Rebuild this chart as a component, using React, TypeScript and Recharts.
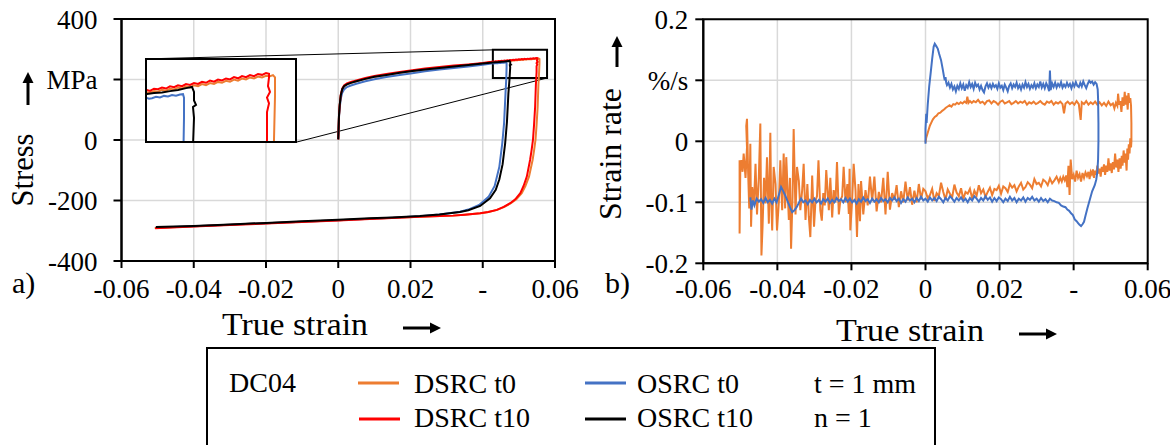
import {
  LineChart,
  Line,
  XAxis,
  YAxis,
  CartesianGrid,
  ReferenceArea,
  ReferenceLine
} from "recharts";

type Pt = [number, number];

// axis ticks and their printed labels
const strainTicks = [-0.06, -0.04, -0.02, 0, 0.02, 0.04, 0.06];
const strainTickLabels = ["-0.06", "-0.04", "-0.02", "0", "0.02", "-", "0.06"];
const stressTicks = [-400, -200, 0, 200, 400];
const stressTickLabels = ["-400", "-200", "0", "MPa", "400"];
const rateTicks = [-0.2, -0.1, 0, 0.1, 0.2];
const rateTickLabels = ["-0.2", "-0.1", "0", "%/s", "0.2"];

// a) stress-strain loops
const stressDsrcT0: Pt[] = [
  [0, 2], [0.0001, 38], [0.0002, 76], [0.0004, 112], [0.0007, 146], [0.0011, 166], [0.0016, 177],
  [0.0024, 184], [0.0035, 189], [0.005, 194], [0.0075, 202], [0.01, 209], [0.0133, 215], [0.017, 222],
  [0.0205, 228], [0.024, 233], [0.028, 238], [0.032, 243], [0.036, 248], [0.04, 253],
  [0.0424, 256.8], [0.0428, 257.9], [0.0432, 257.2], [0.0436, 258.6], [0.044, 258.1], [0.0444, 259.5],
  [0.0448, 258.8], [0.0452, 260.2], [0.0456, 259.6], [0.046, 261], [0.0464, 260.3], [0.0468, 261.8],
  [0.0472, 261.1], [0.0476, 262.5], [0.048, 261.9], [0.0484, 263.4], [0.0488, 262.7], [0.0492, 264.1],
  [0.0496, 263.5], [0.05, 264.9], [0.0504, 264.3], [0.0508, 265.7], [0.0512, 265], [0.0516, 266.5],
  [0.052, 265.8], [0.0524, 267.2], [0.0528, 266.6], [0.0532, 268], [0.0536, 267.3], [0.054, 268.6],
  [0.0544, 268], [0.0548, 269.2], [0.0552, 268.8], [0.0555, 269.6], [0.0557, 268],
  [0.0557, 255], [0.0556, 225], [0.0554, 180], [0.0552, 110], [0.0549, 50], [0.0546, 0], [0.0542, -35],
  [0.0538, -66], [0.0528, -121], [0.0518, -152], [0.0508, -176], [0.0493, -196], [0.0478, -209],
  [0.046, -221], [0.044, -231], [0.0416, -238], [0.0393, -242], [0.035, -247], [0.0318, -250],
  [0.0226, -254], [0.0087, -260], [0, -265], [-0.01, -270], [-0.02, -275], [-0.03, -280], [-0.04, -285],
  [-0.0508, -291]
];

const stressDsrcT10: Pt[] = [
  [0, 2], [0.0001, 40], [0.0002, 80], [0.0004, 116], [0.0007, 150], [0.0011, 170], [0.0016, 180],
  [0.0024, 187], [0.0035, 192], [0.005, 197], [0.0075, 205], [0.01, 212], [0.0133, 218], [0.017, 225],
  [0.0205, 231], [0.024, 236], [0.028, 241], [0.032, 246], [0.036, 250], [0.04, 254.5],
  [0.0424, 258.5], [0.0428, 259.5], [0.0432, 258.6], [0.0436, 260.2], [0.044, 259.8], [0.0444, 261],
  [0.0448, 260.3], [0.0452, 261.8], [0.0456, 261.2], [0.046, 262.5], [0.0464, 261.9], [0.0468, 263.4],
  [0.0472, 262.8], [0.0476, 264.1], [0.048, 263.5], [0.0484, 265], [0.0488, 264.3], [0.0492, 265.8],
  [0.0496, 265.1], [0.05, 266.5], [0.0504, 265.9], [0.0508, 267.3], [0.0512, 266.6], [0.0516, 268.2],
  [0.052, 267.4], [0.0524, 268.9], [0.0528, 268.2], [0.0532, 269.6], [0.0536, 268.9], [0.054, 270.4],
  [0.0544, 269.8], [0.0548, 271], [0.0551, 270.5],
  [0.0551, 268], [0.055, 262], [0.0552, 258], [0.0549, 254], [0.0551, 250], [0.0549, 244], [0.0549, 225],
  [0.0547, 180], [0.0545, 110], [0.0542, 50], [0.0539, 0], [0.0535, -35], [0.0531, -66], [0.0522, -121],
  [0.0513, -152], [0.0504, -176], [0.049, -196], [0.0476, -209], [0.0458, -221], [0.0439, -231],
  [0.0415, -238], [0.0393, -242], [0.035, -247], [0.0318, -250], [0.0226, -254], [0.0087, -261],
  [0, -266], [-0.01, -271], [-0.02, -276], [-0.03, -281], [-0.04, -286], [-0.0507, -292]
];

const stressOsrcT0: Pt[] = [
  [0, 2], [0.0001, 38], [0.0002, 74], [0.0004, 106], [0.0007, 136], [0.0011, 156], [0.0016, 167],
  [0.0024, 175], [0.0035, 180], [0.005, 186], [0.0075, 194], [0.01, 201], [0.0133, 208], [0.017, 215],
  [0.0205, 221], [0.024, 227], [0.028, 233], [0.032, 238], [0.036, 243], [0.04, 248.5], [0.0424, 252.5],
  [0.0428, 254], [0.0431, 253.2], [0.0434, 253.6], [0.0438, 254.6], [0.0442, 254.1], [0.0446, 255.2],
  [0.045, 254.8], [0.0454, 255.8], [0.0458, 255.3], [0.0462, 256.2], [0.0465, 256.4], [0.0466, 254],
  [0.0466, 240], [0.0465, 200], [0.0463, 154], [0.0459, 55], [0.0454, -11], [0.0446, -88],
  [0.0433, -152], [0.0416, -188], [0.039, -215], [0.036, -230], [0.0337, -237], [0.028, -246],
  [0.0226, -252], [0.015, -257], [0.0087, -260], [0, -265], [-0.01, -270], [-0.02, -275], [-0.03, -280],
  [-0.04, -285], [-0.0496, -289]
];

const stressOsrcT10: Pt[] = [
  [0, 2], [0.0001, 40], [0.0002, 80], [0.0004, 115], [0.0007, 148], [0.0011, 168], [0.0016, 178],
  [0.0024, 184], [0.0035, 189], [0.005, 194], [0.0075, 202], [0.01, 209], [0.0133, 215], [0.017, 222],
  [0.0205, 228], [0.024, 233], [0.028, 238], [0.032, 243], [0.036, 248], [0.04, 253], [0.0428, 256.5],
  [0.0436, 257.2], [0.0444, 257.6], [0.0452, 258.5], [0.046, 259.3], [0.0468, 260.6], [0.0474, 261.4],
  [0.0476, 258], [0.0476, 252], [0.0478, 249], [0.0475, 247.5], [0.0476, 240], [0.0474, 200],
  [0.0471, 154], [0.0467, 60], [0.0462, -11], [0.0455, -80], [0.0446, -130], [0.0436, -165],
  [0.042, -193], [0.0393, -218], [0.036, -232], [0.0337, -238], [0.028, -246], [0.0226, -251],
  [0.015, -256], [0.0087, -259], [0, -264], [-0.01, -269], [-0.02, -274], [-0.03, -279], [-0.04, -284],
  [-0.0505, -288]
];

// b) strain rate over strain (only the t0 runs are shown)
const rateDsrcT0: Pt[] = [
  [0, -0.002], [0.0002, 0.006], [0.0005, 0.012], [0.0008, 0.018], [0.0012, 0.026], [0.0016, 0.031],
  [0.002, 0.036], [0.0025, 0.04], [0.003, 0.042], [0.0035, 0.046], [0.004, 0.047], [0.0045, 0.05],
  [0.005, 0.052], [0.0055, 0.055], [0.006, 0.057], [0.0065, 0.059], [0.007, 0.057], [0.0075, 0.061],
  [0.008, 0.06], [0.0085, 0.063], [0.009, 0.061], [0.0095, 0.064], [0.01, 0.062], [0.0105, 0.065],
  [0.011, 0.063], [0.0113, 0.073], [0.0116, 0.063], [0.012, 0.066], [0.0125, 0.063], [0.013, 0.066],
  [0.0136, 0.064], [0.0142, 0.068], [0.0148, 0.063], [0.0154, 0.065], [0.016, 0.061], [0.0166, 0.066],
  [0.0172, 0.067], [0.0178, 0.062], [0.0184, 0.066], [0.019, 0.064], [0.0196, 0.06], [0.0202, 0.065],
  [0.0208, 0.067], [0.0214, 0.062], [0.022, 0.064], [0.0226, 0.066], [0.0232, 0.061], [0.0238, 0.063],
  [0.0244, 0.066], [0.025, 0.062], [0.0256, 0.065], [0.0262, 0.063], [0.0268, 0.066], [0.0274, 0.06],
  [0.028, 0.064], [0.0286, 0.062], [0.0292, 0.065], [0.0298, 0.061], [0.0304, 0.063], [0.031, 0.066],
  [0.0316, 0.062], [0.0322, 0.06], [0.0328, 0.065], [0.0334, 0.063], [0.034, 0.066], [0.0346, 0.06],
  [0.0352, 0.064], [0.0358, 0.062], [0.0364, 0.065], [0.037, 0.061], [0.0374, 0.046], [0.0378, 0.062],
  [0.0384, 0.065], [0.039, 0.061], [0.0396, 0.064], [0.0402, 0.06], [0.0408, 0.066], [0.0414, 0.061],
  [0.0419, 0.035], [0.0422, 0.064], [0.0428, 0.061], [0.0434, 0.066], [0.044, 0.06], [0.0446, 0.064],
  [0.0452, 0.061], [0.0458, 0.065], [0.0464, 0.06], [0.047, 0.064], [0.0476, 0.059], [0.0482, 0.063],
  [0.0488, 0.058], [0.0494, 0.065], [0.05, 0.059], [0.0506, 0.062], [0.051, 0.054], [0.0514, 0.063],
  [0.0518, 0.058], [0.052, 0.078], [0.0523, 0.06], [0.0526, 0.066], [0.0529, 0.048], [0.0532, 0.072],
  [0.0535, 0.058], [0.0538, 0.081], [0.054, 0.06], [0.0543, 0.075], [0.0546, 0.052], [0.0548, 0.079],
  [0.0551, 0.063], [0.0553, 0.071], [0.0555, 0.058], [0.0556, 0.03],
  [0.0556, 0], [0.0555, -0.01], [0.0553, 0.005], [0.0551, -0.02], [0.0549, -0.005], [0.0547, -0.03],
  [0.0545, -0.012], [0.0543, -0.048], [0.054, -0.02], [0.0538, -0.035], [0.0535, -0.015], [0.0532, -0.04],
  [0.053, -0.024], [0.0527, -0.045], [0.0524, -0.028], [0.0521, -0.05], [0.0518, -0.03], [0.0515, -0.043],
  [0.0512, -0.02], [0.0509, -0.046], [0.0506, -0.034], [0.0503, -0.052], [0.05, -0.036], [0.0497, -0.048],
  [0.0494, -0.028], [0.0491, -0.05], [0.0488, -0.04], [0.0485, -0.055], [0.0482, -0.038], [0.0479, -0.05],
  [0.0476, -0.042], [0.0473, -0.058], [0.047, -0.045], [0.0467, -0.053], [0.0464, -0.04], [0.0461, -0.055],
  [0.0458, -0.048], [0.0455, -0.06], [0.0452, -0.046], [0.0449, -0.054], [0.0446, -0.05], [0.0443, -0.062],
  [0.044, -0.05], [0.0436, -0.057], [0.0432, -0.051], [0.0428, -0.06], [0.0424, -0.052], [0.042, -0.066],
  [0.0416, -0.054], [0.0412, -0.06], [0.0408, -0.048], [0.0404, -0.066], [0.04, -0.055], [0.0396, -0.062],
  [0.0392, -0.03], [0.0389, -0.088], [0.0386, -0.04], [0.0383, -0.075], [0.038, -0.056], [0.0376, -0.064],
  [0.0372, -0.058], [0.0368, -0.066], [0.0364, -0.06], [0.036, -0.067], [0.0354, -0.058], [0.0348, -0.064],
  [0.0342, -0.069], [0.0336, -0.061], [0.033, -0.072], [0.0324, -0.066], [0.0318, -0.063], [0.0312, -0.074],
  [0.0306, -0.068], [0.03, -0.07], [0.0294, -0.062], [0.0288, -0.077], [0.0282, -0.071], [0.0276, -0.067],
  [0.027, -0.075], [0.0264, -0.079], [0.0258, -0.068], [0.0252, -0.074], [0.0246, -0.082], [0.024, -0.072],
  [0.0234, -0.076], [0.0228, -0.07], [0.0222, -0.083], [0.0216, -0.077], [0.021, -0.074], [0.0204, -0.086],
  [0.0198, -0.073], [0.0192, -0.08], [0.0186, -0.078], [0.018, -0.088], [0.0174, -0.076], [0.0168, -0.083],
  [0.0162, -0.091], [0.0156, -0.079], [0.015, -0.085], [0.0144, -0.072], [0.0138, -0.089], [0.0132, -0.081],
  [0.0126, -0.094], [0.012, -0.078], [0.0114, -0.086], [0.0108, -0.083], [0.0102, -0.095], [0.0096, -0.077],
  [0.009, -0.09], [0.0084, -0.084], [0.0078, -0.071], [0.0072, -0.092], [0.0066, -0.086], [0.006, -0.079],
  [0.0054, -0.096], [0.0048, -0.083], [0.0042, -0.068], [0.0036, -0.09], [0.003, -0.085], [0.0024, -0.098],
  [0.0018, -0.078], [0.0012, -0.088], [0.0006, -0.093], [0, -0.082], [-0.0006, -0.078], [-0.0012, -0.095],
  [-0.0018, -0.07], [-0.0024, -0.1], [-0.003, -0.081], [-0.0036, -0.104], [-0.0042, -0.075], [-0.0048, -0.097],
  [-0.0054, -0.066], [-0.006, -0.1], [-0.0066, -0.082], [-0.0072, -0.108], [-0.0078, -0.072], [-0.0084, -0.096],
  [-0.009, -0.085], [-0.0096, -0.112], [-0.0102, -0.05], [-0.0108, -0.12], [-0.0114, -0.06], [-0.012, -0.1],
  [-0.0126, -0.083], [-0.0132, -0.115], [-0.0138, -0.058], [-0.0144, -0.098], [-0.015, -0.058], [-0.0156, -0.105],
  [-0.0162, -0.08], [-0.0168, -0.12], [-0.0174, -0.065], [-0.0177, -0.131], [-0.0181, -0.07], [-0.0185, -0.157],
  [-0.0189, -0.08], [-0.0194, -0.037], [-0.0198, -0.095], [-0.0203, -0.146], [-0.0205, -0.045], [-0.0207, -0.119],
  [-0.0211, -0.07], [-0.0216, -0.1], [-0.0221, -0.042], [-0.0225, -0.09], [-0.023, -0.097], [-0.0234, -0.12],
  [-0.0239, -0.034], [-0.0243, -0.1], [-0.0248, -0.08], [-0.0252, -0.125], [-0.0257, -0.06], [-0.0261, -0.113],
  [-0.0265, -0.075], [-0.0268, -0.047], [-0.0272, -0.105], [-0.0276, -0.085], [-0.028, -0.13], [-0.0284, -0.113],
  [-0.0289, -0.031], [-0.0293, -0.09], [-0.0297, -0.097], [-0.0301, -0.14], [-0.0306, -0.056], [-0.0311, -0.157],
  [-0.0315, -0.124], [-0.0319, -0.07], [-0.0324, -0.129], [-0.0329, -0.037], [-0.0333, -0.08], [-0.0338, -0.113],
  [-0.0342, -0.065], [-0.0347, -0.042], [-0.0351, -0.12], [-0.0356, 0.02], [-0.0359, -0.09], [-0.0363, -0.176],
  [-0.0366, -0.06], [-0.0369, -0.129], [-0.0372, -0.085], [-0.0376, -0.026], [-0.0379, -0.11], [-0.0383, -0.02],
  [-0.0387, -0.113], [-0.0392, -0.031], [-0.0396, -0.1], [-0.0401, -0.146], [-0.0405, -0.07], [-0.041, -0.042],
  [-0.0414, -0.146], [-0.0417, -0.09], [-0.0419, 0.014], [-0.0423, -0.135], [-0.0428, -0.026], [-0.0432, -0.102],
  [-0.0436, -0.06], [-0.044, -0.14], [-0.0443, -0.187], [-0.0446, 0.029], [-0.045, -0.058], [-0.0455, -0.12],
  [-0.0459, -0.037], [-0.0463, -0.1], [-0.0468, -0.075], [-0.0471, -0.14], [-0.0473, -0.004], [-0.0476, -0.11],
  [-0.0479, -0.05], [-0.0482, 0.037], [-0.0484, 0.025], [-0.0482, -0.01], [-0.0486, -0.06], [-0.0489, -0.035],
  [-0.0491, -0.02], [-0.0494, -0.05], [-0.0497, -0.031], [-0.05, -0.04], [-0.0502, -0.151], [-0.0502, -0.031]
];

const rateOsrcT0: Pt[] = [
  [0, -0.004], [0, 0.02], [0.0002, 0.045], [0.0003, 0.03], [0.0006, 0.06], [0.001, 0.09], [0.0014, 0.112],
  [0.0018, 0.135], [0.0022, 0.155], [0.0025, 0.16], [0.0029, 0.156], [0.0033, 0.152], [0.0037, 0.143],
  [0.0042, 0.133], [0.0046, 0.12], [0.005, 0.106], [0.0052, 0.1], [0.0054, 0.105], [0.0056, 0.096],
  [0.0058, 0.092], [0.0062, 0.096], [0.0066, 0.088], [0.007, 0.094], [0.0074, 0.085], [0.0078, 0.09],
  [0.0082, 0.082], [0.0086, 0.091], [0.009, 0.086], [0.0094, 0.095], [0.0098, 0.087], [0.0102, 0.093],
  [0.0106, 0.083], [0.011, 0.092], [0.0114, 0.088], [0.0118, 0.097], [0.0122, 0.089], [0.0126, 0.094],
  [0.013, 0.086], [0.0134, 0.096], [0.0138, 0.09], [0.0142, 0.093], [0.0146, 0.085], [0.015, 0.091],
  [0.0154, 0.084], [0.0158, 0.08], [0.0162, 0.09], [0.0166, 0.095], [0.017, 0.088], [0.0174, 0.093],
  [0.0178, 0.087], [0.0182, 0.094], [0.0186, 0.089], [0.019, 0.092], [0.0194, 0.086], [0.0198, 0.095],
  [0.0202, 0.088], [0.0206, 0.091], [0.021, 0.084], [0.0214, 0.093], [0.0218, 0.088], [0.0222, 0.082],
  [0.0226, 0.091], [0.023, 0.095], [0.0234, 0.087], [0.0238, 0.093], [0.0242, 0.089], [0.0246, 0.096],
  [0.025, 0.087], [0.0254, 0.092], [0.0258, 0.085], [0.0262, 0.093], [0.0266, 0.088], [0.027, 0.097],
  [0.0274, 0.089], [0.0278, 0.094], [0.0282, 0.086], [0.0286, 0.092], [0.029, 0.088], [0.0294, 0.095],
  [0.0298, 0.087], [0.0302, 0.093], [0.0306, 0.089], [0.031, 0.098], [0.0314, 0.088], [0.0318, 0.094],
  [0.0322, 0.087], [0.0326, 0.095], [0.033, 0.09], [0.0334, 0.082], [0.0336, 0.116], [0.0338, 0.084],
  [0.0342, 0.095], [0.0346, 0.089], [0.035, 0.096], [0.0354, 0.088], [0.0358, 0.094], [0.0362, 0.09],
  [0.0366, 0.097], [0.037, 0.088], [0.0374, 0.093], [0.0378, 0.089], [0.0382, 0.096], [0.0386, 0.09],
  [0.039, 0.094], [0.0394, 0.087], [0.0398, 0.095], [0.0402, 0.09], [0.0406, 0.097], [0.041, 0.091],
  [0.0414, 0.089], [0.0418, 0.096], [0.0422, 0.09], [0.0426, 0.098], [0.043, 0.092], [0.0434, 0.087],
  [0.0438, 0.094], [0.0442, 0.099], [0.0446, 0.096], [0.045, 0.098], [0.0454, 0.093], [0.0458, 0.097],
  [0.0462, 0.094], [0.0465, 0.085], [0.0466, 0.07], [0.0467, 0.03], [0.0467, 0], [0.0466, -0.03],
  [0.0464, -0.05], [0.0461, -0.063], [0.0457, -0.072], [0.045, -0.082], [0.0443, -0.097], [0.0437, -0.11],
  [0.0432, -0.122], [0.0428, -0.132], [0.0424, -0.136], [0.042, -0.139], [0.0416, -0.137], [0.0412, -0.134],
  [0.0408, -0.131], [0.0403, -0.128], [0.0398, -0.121], [0.0393, -0.118], [0.0388, -0.114], [0.0383, -0.112],
  [0.0378, -0.108], [0.0372, -0.107], [0.0366, -0.105], [0.036, -0.101], [0.0354, -0.1], [0.0348, -0.098],
  [0.0342, -0.097], [0.0336, -0.094], [0.033, -0.1], [0.0324, -0.095], [0.0318, -0.098], [0.0312, -0.093],
  [0.0306, -0.099], [0.03, -0.094], [0.0294, -0.097], [0.0288, -0.091], [0.0282, -0.096], [0.0276, -0.093],
  [0.027, -0.099], [0.0264, -0.092], [0.0258, -0.097], [0.0252, -0.094], [0.0246, -0.1], [0.024, -0.093],
  [0.0234, -0.097], [0.0228, -0.091], [0.0222, -0.098], [0.0216, -0.094], [0.021, -0.1], [0.0204, -0.095],
  [0.0198, -0.092], [0.0192, -0.098], [0.0186, -0.093], [0.018, -0.099], [0.0174, -0.092], [0.0168, -0.096],
  [0.0162, -0.09], [0.0156, -0.097], [0.015, -0.093], [0.0144, -0.099], [0.0138, -0.094], [0.0132, -0.09],
  [0.0126, -0.097], [0.012, -0.093], [0.0114, -0.1], [0.0108, -0.094], [0.0102, -0.098], [0.0096, -0.092],
  [0.009, -0.097], [0.0084, -0.093], [0.0078, -0.099], [0.0072, -0.094], [0.0066, -0.09], [0.006, -0.097],
  [0.0054, -0.093], [0.0048, -0.1], [0.0042, -0.095], [0.0036, -0.091], [0.003, -0.098], [0.0024, -0.093],
  [0.0018, -0.097], [0.0012, -0.092], [0.0006, -0.099], [0, -0.094], [-0.0006, -0.097], [-0.0012, -0.091],
  [-0.0018, -0.098], [-0.0024, -0.093], [-0.003, -0.1], [-0.0036, -0.094], [-0.0042, -0.097], [-0.0048, -0.092],
  [-0.0054, -0.099], [-0.006, -0.095], [-0.0066, -0.101], [-0.0072, -0.094], [-0.0078, -0.098], [-0.0084, -0.092],
  [-0.009, -0.097], [-0.0096, -0.093], [-0.0102, -0.1], [-0.0108, -0.095], [-0.0114, -0.098], [-0.012, -0.093],
  [-0.0126, -0.1], [-0.0132, -0.095], [-0.0138, -0.099], [-0.0144, -0.094], [-0.015, -0.101], [-0.0156, -0.095],
  [-0.0162, -0.098], [-0.0168, -0.092], [-0.0174, -0.099], [-0.018, -0.095], [-0.0186, -0.102], [-0.0192, -0.096],
  [-0.0198, -0.1], [-0.0204, -0.094], [-0.021, -0.099], [-0.0216, -0.093], [-0.0222, -0.1], [-0.0228, -0.095],
  [-0.0234, -0.098], [-0.024, -0.093], [-0.0246, -0.1], [-0.0252, -0.096], [-0.0258, -0.101], [-0.0264, -0.094],
  [-0.027, -0.099], [-0.0276, -0.095], [-0.0282, -0.102], [-0.0288, -0.096], [-0.0294, -0.1], [-0.03, -0.094],
  [-0.0306, -0.1], [-0.0312, -0.096], [-0.0318, -0.103], [-0.0324, -0.097], [-0.033, -0.1], [-0.0336, -0.094],
  [-0.0342, -0.101], [-0.0348, -0.108], [-0.0354, -0.113], [-0.036, -0.116], [-0.0366, -0.108], [-0.0372, -0.099],
  [-0.0378, -0.09], [-0.0384, -0.082], [-0.039, -0.075], [-0.0396, -0.088], [-0.0402, -0.1], [-0.0408, -0.094],
  [-0.0414, -0.102], [-0.042, -0.096], [-0.0426, -0.1], [-0.0432, -0.093], [-0.0438, -0.101], [-0.0444, -0.095],
  [-0.045, -0.099], [-0.0456, -0.094], [-0.0462, -0.105], [-0.0466, -0.097], [-0.047, -0.112], [-0.0473, -0.092]
];

// region of the stress plot that is magnified in the inset, and where the inset sits
const zoomWindow = { x1: 0.0428, x2: 0.0578, y1: 205, y2: 298 };
const insetCornerTopLeft = { x: -0.0535, y: 268 };
const insetCornerBottomRight = { x: -0.0119, y: -8 };

const ORANGE = "#ED7D31";
const RED = "#FF0000";
const BLUE = "#4472C4";
const BLACK = "#000000";
const GRID = "#D9D9D9";
const FONT = "'Liberation Serif', 'Times New Roman', serif";

const rows = (pts: Pt[]) => pts.map(([x, y]) => ({ x, y }));

const labelFor = (ticks: number[], labels: string[]) => (v: number) => {
  const i = ticks.findIndex((t) => Math.abs(t - v) < 1e-9);
  return i >= 0 ? labels[i] : String(v);
};

const tickStyle = { fill: "#000", fontSize: 27, fontFamily: FONT };
const axisLine = { stroke: "#000", strokeWidth: 2 };

const stressSeries = [
  { name: "DSRC t0", data: stressDsrcT0, color: ORANGE },
  { name: "OSRC t0", data: stressOsrcT0, color: BLUE },
  { name: "DSRC t10", data: stressDsrcT10, color: RED },
  { name: "OSRC t10", data: stressOsrcT10, color: BLACK }
];

function HArrow({ x1, x2, y }: { x1: number; x2: number; y: number }) {
  return (
    <g>
      <line x1={x1} y1={y} x2={x2 - 9} y2={y} stroke="#000" strokeWidth={3} />
      <polygon points={`${x2},${y} ${x2 - 11},${y - 5.5} ${x2 - 11},${y + 5.5}`} fill="#000" />
    </g>
  );
}

function VArrow({ x, y1, y2 }: { x: number; y1: number; y2: number }) {
  // y2 is the tip (upwards)
  return (
    <g>
      <line x1={x} y1={y1} x2={x} y2={y2 + 9} stroke="#000" strokeWidth={3} />
      <polygon points={`${x},${y2} ${x - 5.5},${y2 + 11} ${x + 5.5},${y2 + 11}`} fill="#000" />
    </g>
  );
}

export default function App() {
  return (
    <div
      style={{
        position: "absolute",
        left: 0,
        top: 0,
        width: 1170,
        height: 445,
        background: "#fff",
        overflow: "hidden",
        fontFamily: FONT
      }}
    >
      {/* a) stress */}
      <div style={{ position: "absolute", left: 0, top: 0 }}>
        <LineChart width={580} height={330} margin={{ top: 19, right: 25, bottom: 39, left: 61.5 }}>
          <CartesianGrid stroke={GRID} strokeWidth={1.5} />
          <XAxis
            type="number"
            dataKey="x"
            domain={[-0.06, 0.06]}
            ticks={strainTicks}
            interval={0}
            tickFormatter={labelFor(strainTicks, strainTickLabels)}
            height={30}
            tickSize={7}
            tickMargin={11}
            axisLine={axisLine}
            tickLine={axisLine}
            tick={tickStyle}
            allowDataOverflow
          />
          <YAxis
            type="number"
            dataKey="y"
            domain={[-400, 400]}
            ticks={stressTicks}
            interval={0}
            tickFormatter={labelFor(stressTicks, stressTickLabels)}
            width={60}
            tickSize={8}
            tickMargin={16}
            axisLine={axisLine}
            tickLine={axisLine}
            tick={tickStyle}
            allowDataOverflow
          />
          <ReferenceArea x1={-0.06} x2={0.06} y1={-400} y2={400} fill="none" stroke="#000" strokeWidth={2} />
          <ReferenceLine
            segment={[insetCornerTopLeft, { x: zoomWindow.x1, y: zoomWindow.y2 }]}
            stroke="#000"
            strokeWidth={1}
          />
          <ReferenceLine
            segment={[insetCornerBottomRight, { x: zoomWindow.x2, y: zoomWindow.y1 }]}
            stroke="#000"
            strokeWidth={1}
          />
          {stressSeries.map((s) => (
            <Line
              key={s.name}
              data={rows(s.data)}
              dataKey="y"
              type="linear"
              stroke={s.color}
              strokeWidth={2}
              dot={false}
              isAnimationActive={false}
            />
          ))}
          <ReferenceArea
            x1={zoomWindow.x1}
            x2={zoomWindow.x2}
            y1={zoomWindow.y1}
            y2={zoomWindow.y2}
            fill="none"
            stroke="#000"
            strokeWidth={2}
          />
        </LineChart>
      </div>

      {/* inset of a) */}
      <div
        style={{
          position: "absolute",
          left: 145,
          top: 58,
          width: 152,
          height: 85,
          boxSizing: "border-box",
          border: "2px solid #000",
          background: "#fff"
        }}
      >
        <LineChart width={148} height={81} margin={{ top: 0, right: 0, bottom: 0, left: 0 }}>
          <XAxis type="number" dataKey="x" domain={[0.0429, 0.0577]} hide allowDataOverflow />
          <YAxis type="number" dataKey="y" domain={[223.9, 280.1]} hide allowDataOverflow />
          {stressSeries.map((s) => (
            <Line
              key={s.name}
              data={rows(s.data)}
              dataKey="y"
              type="linear"
              stroke={s.color}
              strokeWidth={2}
              dot={false}
              isAnimationActive={false}
            />
          ))}
        </LineChart>
      </div>

      {/* b) strain rate */}
      <div style={{ position: "absolute", left: 580, top: 0 }}>
        <LineChart width={590} height={330} margin={{ top: 19.3, right: 22.3, bottom: 36.7, left: 63.3 }}>
          <CartesianGrid stroke={GRID} strokeWidth={1.5} />
          <XAxis
            type="number"
            dataKey="x"
            domain={[-0.06, 0.06]}
            ticks={strainTicks}
            interval={0}
            tickFormatter={labelFor(strainTicks, strainTickLabels)}
            height={30}
            tickSize={7}
            tickMargin={9}
            axisLine={axisLine}
            tickLine={axisLine}
            tick={tickStyle}
            allowDataOverflow
          />
          <YAxis
            type="number"
            dataKey="y"
            domain={[-0.2, 0.2]}
            ticks={rateTicks}
            interval={0}
            tickFormatter={labelFor(rateTicks, rateTickLabels)}
            width={60}
            tickSize={8}
            tickMargin={7}
            axisLine={axisLine}
            tickLine={axisLine}
            tick={tickStyle}
            allowDataOverflow
          />
          <ReferenceArea x1={-0.06} x2={0.06} y1={-0.2} y2={0.2} fill="none" stroke="#000" strokeWidth={2} />
          <Line
            data={rows(rateDsrcT0)}
            dataKey="y"
            type="linear"
            stroke={ORANGE}
            strokeWidth={2}
            dot={false}
            isAnimationActive={false}
          />
          <Line
            data={rows(rateOsrcT0)}
            dataKey="y"
            type="linear"
            stroke={BLUE}
            strokeWidth={2}
            dot={false}
            isAnimationActive={false}
          />
        </LineChart>
      </div>

      {/* titles, panel letters and legend */}
      <svg
        width={1170}
        height={445}
        style={{ position: "absolute", left: 0, top: 0, pointerEvents: "none" }}
        fontFamily={FONT}
      >
        <text
          transform="translate(33,170) rotate(-90)"
          textAnchor="middle"
          fontSize={31}
          textLength={73}
          lengthAdjust="spacingAndGlyphs"
        >
          Stress
        </text>
        <VArrow x={28} y1={105} y2={72} />
        <text x={12} y={293} fontSize={30}>a)</text>
        <text x={222} y={335} fontSize={31} textLength={146} lengthAdjust="spacingAndGlyphs">
          True strain
        </text>
        <HArrow x1={403} x2={441} y={328} />

        <text
          transform="translate(621,154) rotate(-90)"
          textAnchor="middle"
          fontSize={31}
          textLength={132}
          lengthAdjust="spacingAndGlyphs"
        >
          Strain rate
        </text>
        <VArrow x={617} y1={67} y2={36} />
        <text x={605} y={293} fontSize={30}>b)</text>
        <text x={836} y={341} fontSize={31} textLength={148} lengthAdjust="spacingAndGlyphs">
          True strain
        </text>
        <HArrow x1={1019} x2={1057} y={334} />

        <rect x={207} y={348} width={728} height={120} fill="none" stroke="#000" strokeWidth={2} />
        <text x={229} y={392} fontSize={28}>DC04</text>
        <line x1={358} y1={383} x2={399} y2={383} stroke={ORANGE} strokeWidth={3} />
        <text x={414} y={393} fontSize={28}>DSRC t0</text>
        <line x1={585} y1={383} x2={626} y2={383} stroke={BLUE} strokeWidth={3} />
        <text x={637} y={393} fontSize={28}>OSRC t0</text>
        <text x={814} y={393} fontSize={28}>t = 1 mm</text>
        <line x1={359} y1={419} x2={400} y2={419} stroke={RED} strokeWidth={3} />
        <text x={414} y={427} fontSize={28}>DSRC t10</text>
        <line x1={585} y1={419} x2={626} y2={419} stroke={BLACK} strokeWidth={3} />
        <text x={637} y={427} fontSize={28}>OSRC t10</text>
        <text x={814} y={427} fontSize={28}>n = 1</text>
      </svg>
    </div>
  );
}
